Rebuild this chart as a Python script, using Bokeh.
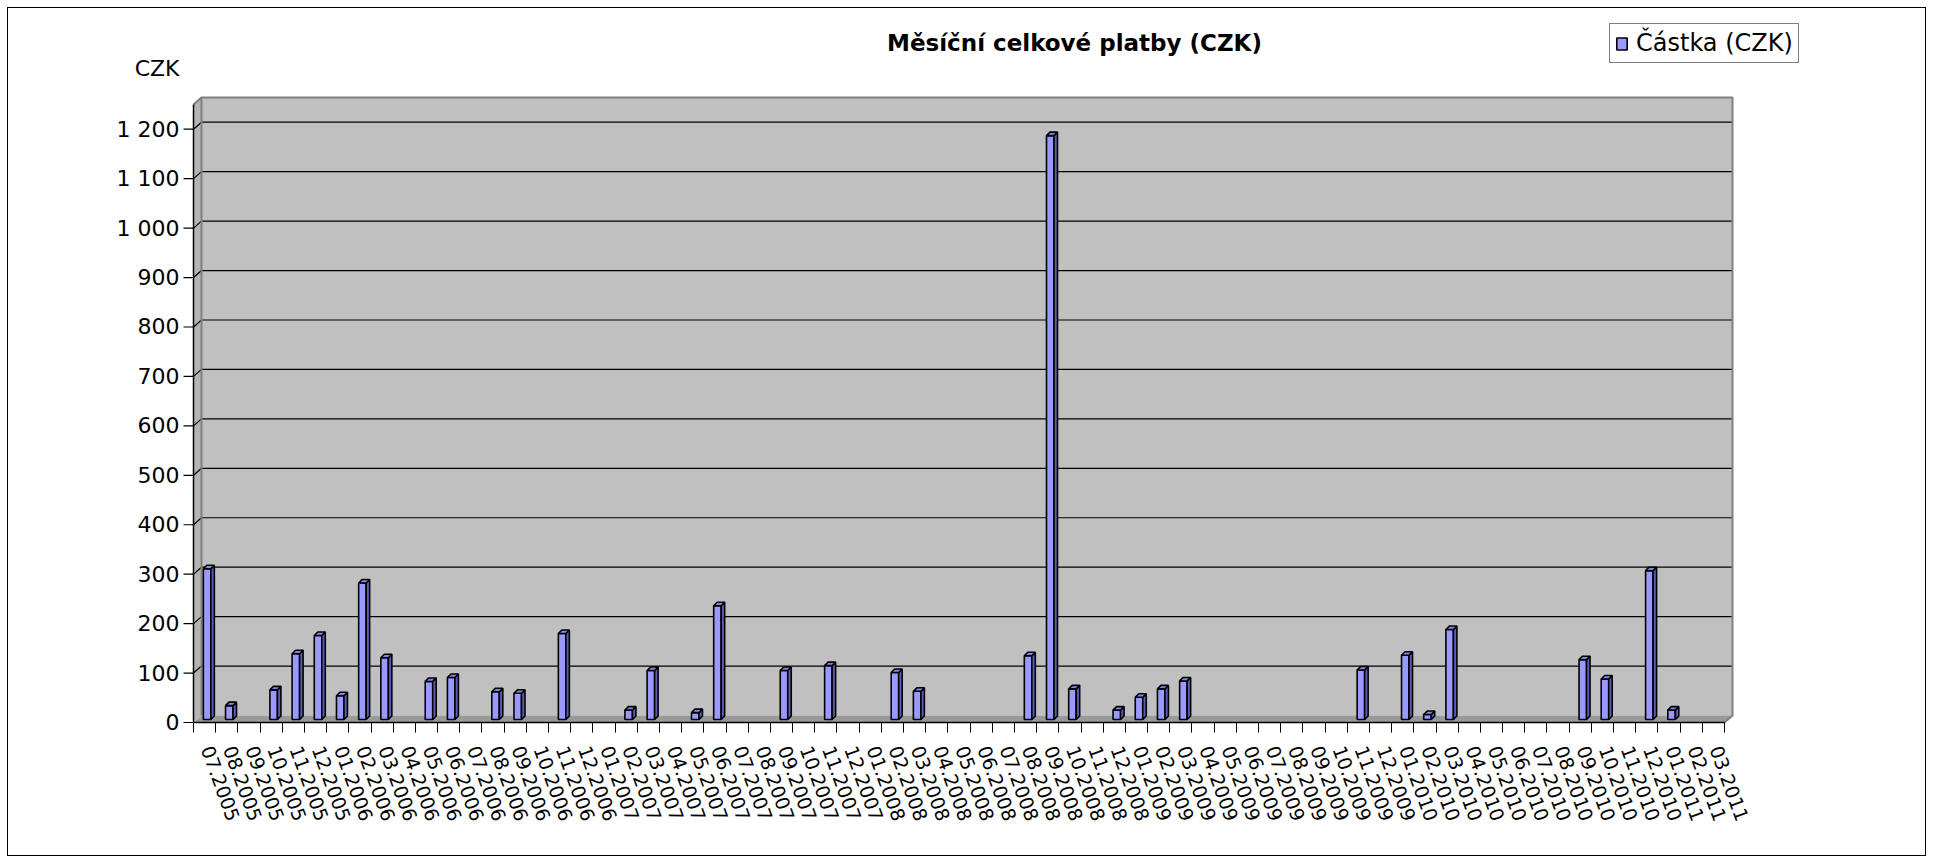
from bokeh.plotting import figure
from bokeh.models import Range1d, FixedTicker, Label, Legend, LegendItem
from bokeh.embed import file_html
from bokeh.resources import INLINE

# ---------------- data ----------------
months = [
    "07.2005", "08.2005", "09.2005", "10.2005", "11.2005", "12.2005",
    "01.2006", "02.2006", "03.2006", "04.2006", "05.2006", "06.2006",
    "07.2006", "08.2006", "09.2006", "10.2006", "11.2006", "12.2006",
    "01.2007", "02.2007", "03.2007", "04.2007", "05.2007", "06.2007",
    "07.2007", "08.2007", "09.2007", "10.2007", "11.2007", "12.2007",
    "01.2008", "02.2008", "03.2008", "04.2008", "05.2008", "06.2008",
    "07.2008", "08.2008", "09.2008", "10.2008", "11.2008", "12.2008",
    "01.2009", "02.2009", "03.2009", "04.2009", "05.2009", "06.2009",
    "07.2009", "08.2009", "09.2009", "10.2009", "11.2009", "12.2009",
    "01.2010", "02.2010", "03.2010", "04.2010", "05.2010", "06.2010",
    "07.2010", "08.2010", "09.2010", "10.2010", "11.2010", "12.2010",
    "01.2011", "02.2011", "03.2011",
]
amounts = [
    305, 28, 0, 60, 133, 170,
    48, 276, 125, 0, 77, 85,
    0, 56, 53, 0, 174, 0,
    0, 19, 99, 0, 14, 230,
    0, 0, 99, 0, 109, 0,
    0, 95, 57, 0, 0, 0,
    0, 129, 1181, 62, 0, 19,
    45, 62, 78, 0, 0, 0,
    0, 0, 0, 0, 100, 0,
    130, 10, 182, 0, 0, 0,
    0, 0, 121, 82, 0, 301,
    19, 0, 0,
]
y_ticks = [0, 100, 200, 300, 400, 500, 600, 700, 800, 900, 1000, 1100, 1200]
y_tick_labels = ["0", "100", "200", "300", "400", "500", "600", "700",
                 "800", "900", "1 000", "1 100", "1 200"]
title_text = "Měsíční celkové platby (CZK)"
series_name = "Částka (CZK)"
unit_text = "CZK"

# ---------------- layout (figure pixels) ----------------
W, H = 1919, 849
FL, FR, FT, FB = 173, 1905, 4, 716         # frame
X0, XF, XB = 185, 1716, 1724               # front-left, front-right, back-right
Y0, YB_TOP = 714, 89                       # front zero line, back wall top
N = len(months)
px_x = (XF - X0) / N
px_y = 0.4944
DXW, DYW = 8 / px_x, 7 / px_y              # wall depth
X_WALL = (XB - X0) / px_x
Y_WALL = (Y0 - YB_TOP) / px_y
TICK = 10 / px_x
BAR_W = 7.5 / px_x
BAR_OFF = 2.5 / px_x
BAR_BASE = 3 / px_y
BDX, BDY = 3.5 / px_x, 3.5 / px_y
LABEL_SHIFT = 2.5 / px_x

FONT = "DejaVu Sans"


def dx(fx):
    return (fx - X0) / px_x


def dy(fy):
    return (Y0 - fy) / px_y


p = figure(width=W, height=H,
           x_range=Range1d(dx(FL), dx(FR)),
           y_range=Range1d(dy(FB), dy(FT)),
           output_backend="svg", toolbar_location=None,
           min_border_left=FL, min_border_right=W - FR,
           min_border_top=FT, min_border_bottom=H - FB,
           background_fill_color="white", border_fill_color="white",
           outline_line_color=None)
p.styles = {"border": "1px solid black", "margin-left": "7px", "margin-top": "7px"}
p.grid.visible = False

# walls & floor
p.patch(x=[0, DXW, DXW, 0], y=[0, DYW, Y_WALL, Y_WALL - DYW],
        fill_color="#B4B4B4", line_color=None)
p.quad(left=[DXW], right=[X_WALL], bottom=[DYW], top=[Y_WALL],
       fill_color="#C0C0C0", line_color=None)
p.patch(x=[0, N, X_WALL, DXW], y=[0, 0, DYW, DYW],
        fill_color="#999999", line_color=None)

# gridlines on the back wall, joined to the front ticks
p.multi_line(xs=[[-TICK, 0, DXW, X_WALL] for v in y_ticks[1:]],
             ys=[[v, v, v + DYW, v + DYW] for v in y_ticks[1:]],
             line_color="black", line_width=1.2)
p.segment(x0=[-TICK], y0=[0], x1=[0], y1=[0], line_color="black", line_width=1.2)

# wall edges
p.line(x=[DXW, DXW], y=[DYW, Y_WALL], line_color="#808080", line_width=2)
p.line(x=[0, DXW, X_WALL, X_WALL, N], y=[Y_WALL - DYW, Y_WALL, Y_WALL, DYW, 0],
       line_color="#808080", line_width=2)
p.line(x=[0, 0, N], y=[Y_WALL - DYW, 0, 0], line_color="black", line_width=1.5)

# 3D bars
L, R, B, T, sx, sy, tx, ty = [], [], [], [], [], [], [], []
for i, v in enumerate(amounts):
    if v <= 0:
        continue
    l = i + 0.5 + BAR_OFF - BAR_W / 2
    r = l + BAR_W
    b = BAR_BASE
    t = BAR_BASE + v
    L.append(l); R.append(r); B.append(b); T.append(t)
    sx.append([r, r + BDX, r + BDX, r]); sy.append([b, b + BDY, t + BDY, t])
    tx.append([l, l + BDX, r + BDX, r]); ty.append([t, t + BDY, t + BDY, t])

front = p.quad(left=L, right=R, bottom=B, top=T, fill_color="#9999FF",
               line_color="black", line_width=1.6)
p.patches(xs=sx, ys=sy, fill_color="#5C5CB8", line_color="black", line_width=1.6)
p.patches(xs=tx, ys=ty, fill_color="#8585E6", line_color="black", line_width=1.6)

# axes
xa = p.xaxis[0]
label_pos = [round(i + 0.5 + LABEL_SHIFT, 4) for i in range(N)]
xa.ticker = FixedTicker(ticks=label_pos, minor_ticks=list(range(N + 1)))
xa.major_label_overrides = {pos: m for pos, m in zip(label_pos, months)}
xa.major_label_orientation = -1.22
xa.major_tick_out = 0
xa.major_tick_in = 0
xa.minor_tick_out = 8
xa.minor_tick_in = 2
xa.minor_tick_line_color = "black"
xa.axis_line_color = None
xa.major_label_standoff = 14
xa.major_label_text_font = FONT
xa.major_label_text_font_size = "19px"
xa.major_label_text_color = "black"

# value axis; its title "CZK" sits above the top tick label
czk_pos = round(dy(60))
ya = p.yaxis[0]
ya.ticker = FixedTicker(ticks=y_ticks + [czk_pos])
overrides = dict(zip(y_ticks, y_tick_labels))
overrides[czk_pos] = unit_text
ya.major_label_overrides = overrides
ya.major_tick_out = 0
ya.major_tick_in = 0
ya.major_tick_line_color = None
ya.minor_tick_line_color = None
ya.axis_line_color = None
ya.major_label_standoff = 2
ya.major_label_text_font = FONT
ya.major_label_text_font_size = "22px"
ya.major_label_text_color = "black"

p.add_layout(Label(x=dx(1066), y=dy(34), text=title_text, text_font=FONT,
                   text_font_style="bold", text_font_size="23px",
                   text_align="center", text_baseline="middle", text_color="black"))

legend = Legend(items=[LegendItem(label=series_name, renderers=[front])],
                location=(1601 - FL, FB - 55), orientation="vertical",
                label_text_font=FONT, label_text_font_size="24px",
                label_text_color="black",
                padding=5, spacing=0, margin=0, glyph_width=13, glyph_height=15,
                label_standoff=8, border_line_color="black", border_line_width=1,
                background_fill_color="white", background_fill_alpha=1)
p.add_layout(legend, "center")

open("out.html", "w").write(file_html(p, INLINE))
